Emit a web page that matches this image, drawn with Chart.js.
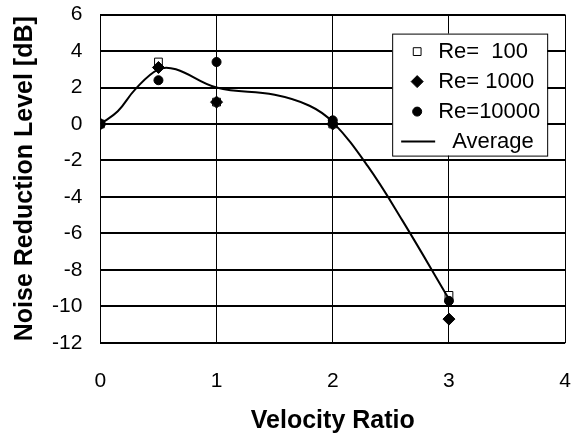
<!DOCTYPE html>
<html>
<head>
<meta charset="utf-8">
<script src="https://cdn.jsdelivr.net/npm/chart.js@4/dist/chart.umd.min.js"></script>
<style>
  html, body { margin: 0; padding: 0; background: #fff; }
  #wrap { width: 573px; height: 439px; }
</style>
</head>
<body>
<div id="wrap"><canvas id="chart"></canvas></div>
<script>
// velocity ratios measured
const ratios = [0, 0.5, 1, 2, 3]
const re100 = [0, 3.4, 1.2, 0, -9.4]
const re1000 = [0, 3.1, 1.2, 0, -10.7]
const re10000 = [0, 2.4, 3.4, 0.2, -9.7]

// smoothed average curve
const avgX = [0, 0.15, 0.3, 0.5, 0.65, 1, 1.5, 1.8, 2, 2.3, 2.6, 3]
const avgY = [0, 0.7, 1.9, 3.0, 3.0, 2.0, 1.6, 1.0, 0.1, -2.3, -5.3, -9.6]

const xTicks = [0, 1, 2, 3, 4]
const yTicks = [-12, -10, -8, -6, -4, -2, 0, 2, 4, 6]

const toPoints = (xs, ys) => xs.map((x, i) => ({ x, y: ys[i] }))

const FONT = '"Liberation Sans", Arial, sans-serif'

const legendItems = [
  { label: 'Re=  100', style: 'rect', fill: '#fff', radius: 5.5 },
  { label: 'Re= 1000', style: 'rectRot', fill: '#000', radius: 6 },
  { label: 'Re=10000', style: 'circle', fill: '#000', radius: 4.5 },
  { label: 'Average', style: 'line' }
]

const boxLegend = {
  id: 'boxLegend',
  afterDraw(chart) {
    const ctx = chart.ctx
    const area = chart.chartArea
    const w = 155, h = 122
    const left = area.right - w - 18
    const top = area.top + 19
    ctx.save()
    ctx.fillStyle = '#fff'
    ctx.fillRect(left, top, w, h)
    ctx.strokeStyle = '#000'
    ctx.lineWidth = 1
    ctx.strokeRect(left + 0.5, top + 0.5, w, h)
    ctx.font = '22px ' + FONT
    ctx.textBaseline = 'middle'
    ctx.fillStyle = '#000'
    legendItems.forEach((item, i) => {
      const cy = top + 18 + i * 30
      if (item.style === 'line') {
        ctx.beginPath()
        ctx.lineWidth = 2
        ctx.moveTo(left + 9, cy)
        ctx.lineTo(left + 43, cy)
        ctx.stroke()
        ctx.fillText(item.label, left + 60, cy)
      } else {
        ctx.fillStyle = item.fill
        ctx.strokeStyle = '#000'
        ctx.lineWidth = 1
        Chart.helpers.drawPoint(ctx, { pointStyle: item.style, radius: item.radius, borderWidth: 1 }, left + 25, cy)
        ctx.fillStyle = '#000'
        ctx.fillText(item.label, left + 46, cy)
      }
    })
    ctx.restore()
  }
}

new Chart(document.getElementById('chart'), {
  type: 'scatter',
  data: {
    datasets: [
      {
        label: 'Average',
        data: toPoints(avgX, avgY),
        showLine: true,
        borderColor: '#000',
        borderWidth: 2,
        pointRadius: 0,
        tension: 0.4,
        order: 0
      },
      {
        label: 'Re= 100',
        data: toPoints(ratios, re100),
        pointStyle: 'rect',
        pointRadius: 5.5,
        backgroundColor: '#fff',
        borderColor: '#000',
        borderWidth: 1,
        order: 3
      },
      {
        label: 'Re= 1000',
        data: toPoints(ratios, re1000),
        pointStyle: 'rectRot',
        pointRadius: 6,
        backgroundColor: '#000',
        borderColor: '#000',
        borderWidth: 1,
        order: 2
      },
      {
        label: 'Re=10000',
        data: toPoints(ratios, re10000),
        pointStyle: 'circle',
        pointRadius: 4.5,
        backgroundColor: '#000',
        borderColor: '#000',
        borderWidth: 1,
        order: 1
      }
    ]
  },
  options: {
    responsive: true,
    maintainAspectRatio: false,
    animation: false,
    layout: { padding: { top: 6, right: 0, left: 6, bottom: 3 } },
    scales: {
      x: {
        type: 'linear',
        min: 0,
        max: 4,
        afterBuildTicks: axis => { axis.ticks = xTicks.map(v => ({ value: v })) },
        grid: { color: '#000', lineWidth: 1, drawTicks: true, tickLength: 24, tickColor: 'rgba(0,0,0,0)' },
        border: { color: '#000', width: 1 },
        ticks: { color: '#000', padding: 2, font: { family: FONT, size: 21 } },
        title: {
          display: true,
          text: 'Velocity Ratio',
          color: '#000',
          padding: { top: 10, bottom: 0 },
          font: { family: FONT, size: 25, weight: 'bold' }
        }
      },
      y: {
        min: -12,
        max: 6,
        afterBuildTicks: axis => { axis.ticks = yTicks.map(v => ({ value: v })) },
        grid: { color: '#000', lineWidth: 2, drawTicks: true, tickLength: 16, tickColor: 'rgba(0,0,0,0)' },
        border: { color: '#000', width: 1 },
        ticks: { color: '#000', padding: 2, font: { family: FONT, size: 21 } },
        title: {
          display: true,
          text: 'Noise Reduction Level [dB]',
          color: '#000',
          padding: { top: 4, bottom: 10 },
          font: { family: FONT, size: 25, weight: 'bold' }
        }
      }
    },
    plugins: {
      legend: { display: false },
      tooltip: { enabled: false }
    }
  },
  plugins: [boxLegend]
})
</script>
</body>
</html>
